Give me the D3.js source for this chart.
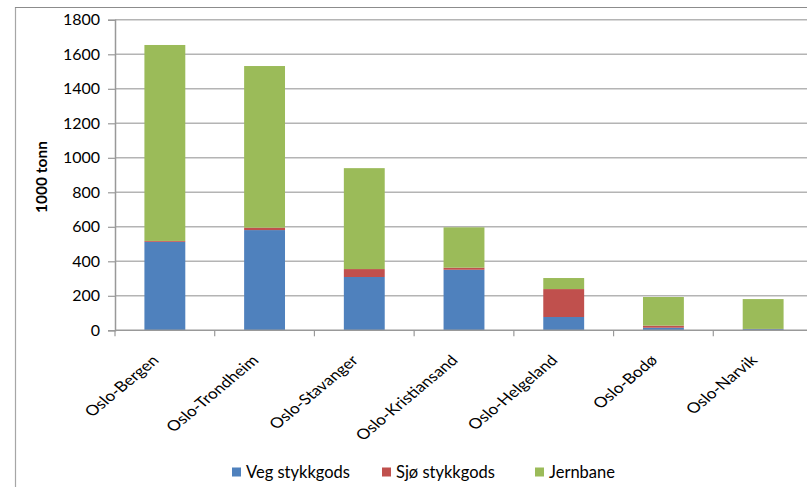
<!DOCTYPE html>
<html><head><meta charset="utf-8">
<script src="https://cdn.jsdelivr.net/npm/d3@7"></script>
<style>body{margin:0;background:#fff}svg{display:block}</style>
</head><body>
<svg id="c" width="807" height="487"></svg>
<script>
const categories = ["Oslo-Bergen","Oslo-Trondheim","Oslo-Stavanger","Oslo-Kristiansand","Oslo-Helgeland","Oslo-Bodø","Oslo-Narvik"];
const vegStykkgods = [513, 581, 309, 351, 77, 15, 7];
const sjoStykkgods = [5, 14, 46, 12, 162, 12, 1];
const jernbane = [1136, 937, 585, 234, 64, 166, 173];
const seriesNames = ["Veg stykkgods","Sjø stykkgods","Jernbane"];
const yTicks = [0,200,400,600,800,1000,1200,1400,1600,1800];
const colors = ["#4F81BD","#C0504D","#9BBB59"];

(function(){
const svg = d3.select("#c");
const font = "Lato, 'Open Sans', sans-serif";
const pLeft = 115, pRight = 813, pTop = 19.8, pBottom = 330.3;

// frame
svg.append("line").attr("x1",15.5).attr("x2",15.5).attr("y1",7).attr("y2",487).attr("stroke","#a6a6a6").attr("stroke-width",1.2);
svg.append("line").attr("x1",15).attr("x2",807).attr("y1",7.5).attr("y2",7.5).attr("stroke","#8c8c8c").attr("stroke-width",1.2);

const x = d3.scaleBand().domain(categories).range([pLeft,pRight]).paddingInner(0.59).paddingOuter(0.295);
const y = d3.scaleLinear().domain([0,1800]).range([pBottom,pTop]);

// gridlines
svg.append("g").selectAll("line").data(yTicks.filter(t=>t>0)).join("line")
  .attr("x1",pLeft).attr("x2",807).attr("y1",d=>y(d)).attr("y2",d=>y(d))
  .attr("stroke","#b4b4b4").attr("stroke-width",1.6);

// stacked data
const table = categories.map((c,i)=>({cat:c, v0:vegStykkgods[i], v1:sjoStykkgods[i], v2:jernbane[i]}));
const stack = d3.stack().keys(["v0","v1","v2"])(table);
svg.append("g").selectAll("g").data(stack).join("g").attr("fill",(d,i)=>colors[i])
  .selectAll("rect").data(d=>d).join("rect")
  .attr("x",d=>x(d.data.cat)).attr("width",x.bandwidth())
  .attr("y",d=>y(d[1])).attr("height",d=>y(d[0])-y(d[1]));

// y axis
const yAxis = svg.append("g").attr("transform",`translate(${pLeft},0)`)
  .call(d3.axisLeft(y).tickValues(yTicks).tickFormat(d3.format("d")).tickSize(7).tickPadding(8));
yAxis.select(".domain").attr("stroke","#999").attr("stroke-width",1.5);
yAxis.selectAll(".tick line").attr("stroke","#999").attr("stroke-width",1.2);
yAxis.selectAll("text").attr("font-family",font).attr("font-size",16).attr("fill","#000");

// x axis line and ticks at band boundaries
const step = x.step(), bw = x.bandwidth();
svg.append("line").attr("x1",pLeft).attr("x2",807).attr("y1",pBottom).attr("y2",pBottom).attr("stroke","#999").attr("stroke-width",1.5);
svg.append("g").selectAll("line").data(categories).join("line")
  .attr("x1",d=>x(d)-(step-bw)/2).attr("x2",d=>x(d)-(step-bw)/2)
  .attr("y1",pBottom).attr("y2",pBottom+6).attr("stroke","#999").attr("stroke-width",1.2);

// x labels (rotated, slightly stretched horizontally like the reference)
svg.append("g").selectAll("text").data(categories).join("text")
  .attr("transform",d=>`translate(${x(d)+bw/2-5},${pBottom+31}) scale(1.2,1) rotate(-45)`)
  .attr("text-anchor","end").attr("font-family",font).attr("font-size",14.5).attr("fill","#000")
  .text(d=>d);

// y title
svg.append("text").attr("transform","translate(47,177) rotate(-90)")
  .attr("text-anchor","middle").attr("font-family",font).attr("font-weight","bold")
  .attr("font-size",15.5).attr("fill","#000").text("1000 tonn");

// legend
const legX = [232, 382, 535];
const lg = svg.append("g").selectAll("g").data(seriesNames).join("g")
  .attr("transform",(d,i)=>`translate(${legX[i]},467.5)`);
lg.append("rect").attr("width",9).attr("height",9).attr("fill",(d,i)=>colors[i]);
lg.append("text").attr("x",14).attr("y",10).attr("font-family",font).attr("font-size",16.5).attr("fill","#000").text(d=>d);
})();
</script>
</body></html>
